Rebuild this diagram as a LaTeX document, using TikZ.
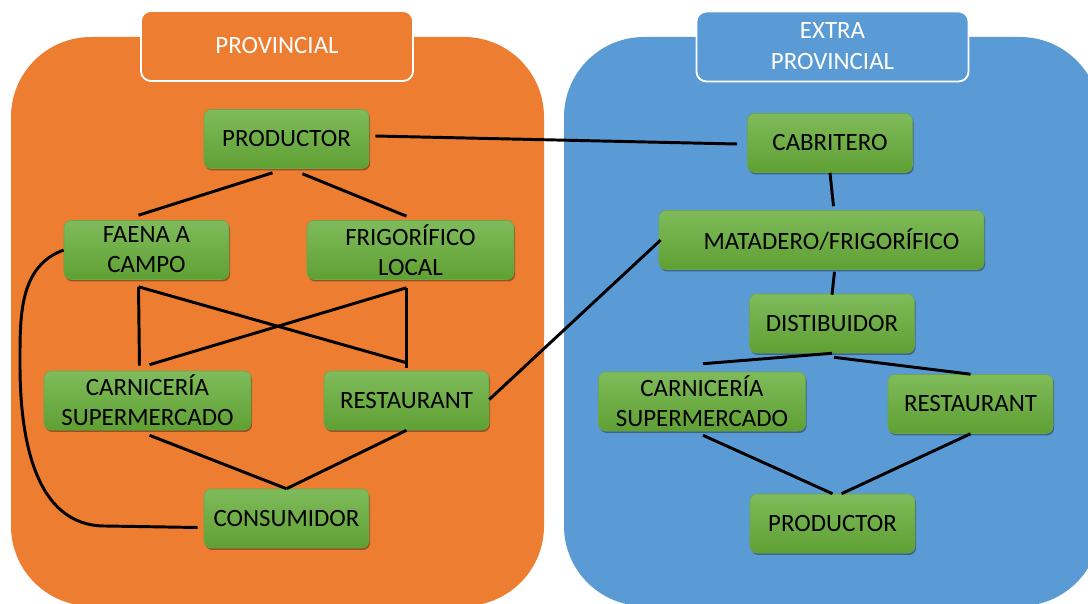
\documentclass[tikz,border=0pt]{standalone}
\usepackage{fontspec}
\setmainfont{Carlito}
\usepackage{tikz}
\usetikzlibrary{calc,shadows}

\definecolor{naranja}{HTML}{ED7D31}
\definecolor{azul}{HTML}{5B9BD5}
\definecolor{verdearriba}{HTML}{7FBB5B}
\definecolor{verdeabajo}{HTML}{5FA033}
\definecolor{verdeborde}{HTML}{6AA74A}

\tikzset{
  caja/.style={rectangle, rounded corners=0.18cm, draw=verdeborde, line width=0.4pt,
    top color=verdearriba, bottom color=verdeabajo,
    drop shadow={shadow xshift=0.8pt, shadow yshift=-1.4pt, opacity=0.35, fill=black},
    minimum height=1.475cm, minimum width=4.125cm, inner sep=2pt, align=center,
    font=\fontsize{17.7}{21.3}\selectfont, text=black},
  ancha/.style={minimum width=5.175cm},
  titulo/.style={rectangle, rounded corners=0.25cm, draw=white, line width=1.3pt,
    minimum width=6.8cm, minimum height=1.75cm, align=center, text=white,
    font=\fontsize{17.7}{22}\selectfont},
  enlace/.style={line width=2.1pt, black}
}

\begin{document}
\begin{tikzpicture}[x=0.025cm, y=-0.025cm]
  \useasboundingbox (0,0) rectangle (1088,604);

  \fill[naranja, rounded corners=2cm] (11,37) rectangle (544,606);
  \fill[azul, rounded corners=2cm] (564,37) rectangle (1100,606);

  \node[titulo, fill=naranja] (prov) at (277,46) {PROVINCIAL};
  \node[titulo, fill=azul] (extra) at (832.5,46.5) {EXTRA\\PROVINCIAL};

  \node[caja] (prodL) at (286.5,139) {PRODUCTOR};
  \node[caja] (faena) at (146.5,250) {FAENA A\\CAMPO};
  \node[caja, ancha] (frigo) at (410.5,250) {FRIGORÍFICO\\LOCAL};
  \node[caja, ancha] (carnL) at (147.5,400.5) {CARNICERÍA\\SUPERMERCADO};
  \node[caja] (restL) at (406.5,400.5) {RESTAURANT};
  \node[caja] (cons) at (286.5,518.5) {CONSUMIDOR};

  \node[caja] (cab) at (830,143) {CABRITERO};
  \node[caja, minimum width=8.125cm] (mat) at (821.5,240) {\hspace*{0.5cm}MATADERO/FRIGORÍFICO};
  \node[caja] (dist) at (832,323.5) {DISTIBUIDOR};
  \node[caja, ancha] (carnR) at (702,401.5) {CARNICERÍA\\SUPERMERCADO};
  \node[caja] (restR) at (970.5,404) {RESTAURANT};
  \node[caja] (prodR) at (832.5,523.5) {PRODUCTOR};

  \draw[enlace] ($(prodL.south)+(-14,4)$) -- ($(faena.north)+(-8,-5)$);
  \draw[enlace] ($(prodL.south)+(16,5)$) -- ($(frigo.north)+(-4,-4)$);
  \draw[enlace] ($(faena.south)+(-8,7)$) -- ($(carnL.north)+(-8,-5)$);
  \draw[enlace] ($(faena.south)+(-8,7)$) -- ($(restL.north)+(0,-8)$);
  \draw[enlace] ($(frigo.south)+(-4,8)$) -- ($(restL.north)+(0,-3)$);
  \draw[enlace] ($(frigo.south)+(-4,8)$) -- ($(carnL.north)+(2,-6)$);
  \draw[enlace] ($(carnL.south)+(2,5)$) -- (cons.north);
  \draw[enlace] (restL.south) -- (cons.north);
  \draw[enlace] (faena.west) to[out=200,in=90] (20,365) to[out=-90,in=180] (105,526)
    -- ($(cons.west)+(-6,9)$);
  \draw[enlace] ($(restL.east)+(0,-1)$) -- ($(mat.west)+(2,0)$);
  \draw[enlace] ($(prodL.east)+(6,-3)$) -- ($(cab.west)+(-10,1)$);

  \draw[enlace] (cab.south) -- ($(mat.north)+(12,-4)$);
  \draw[enlace] ($(mat.south)+(13,2)$) -- ($(dist.north)+(0,1)$);
  \draw[enlace] (dist.south) -- ($(carnR.north)+(1,-8)$);
  \draw[enlace] ($(dist.south)+(2,4)$) -- (restR.north);
  \draw[enlace] ($(carnR.south)+(1,4)$) -- (prodR.north);
  \draw[enlace] (restR.south) -- ($(prodR.north)+(9,0)$);
\end{tikzpicture}
\end{document}
